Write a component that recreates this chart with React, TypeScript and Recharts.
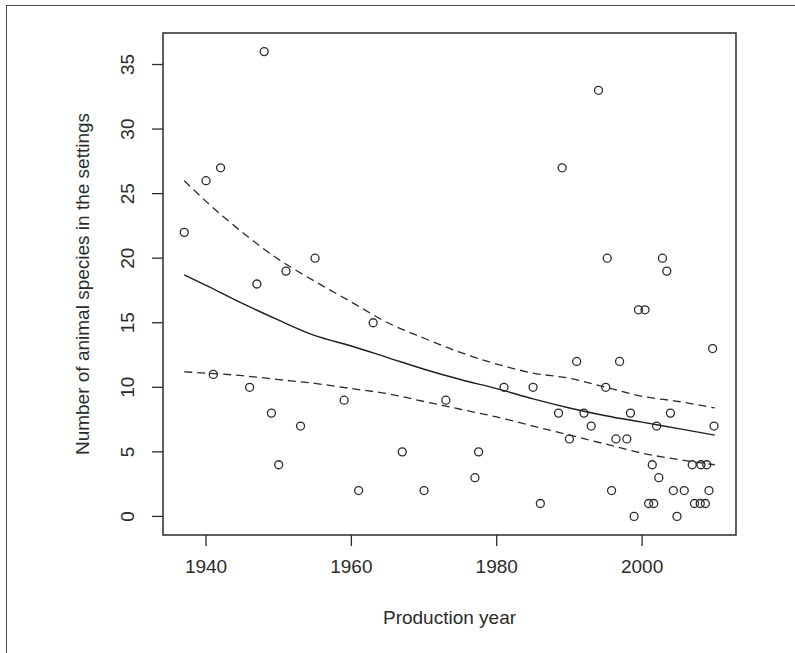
import React from 'react';
import { ComposedChart, Scatter, Line, XAxis, YAxis, ReferenceArea, Label } from 'recharts';

// observed films: production year and number of animal species
const years = [
  1937, 1940, 1941, 1942, 1946, 1947, 1948, 1949, 1950, 1951, 1953, 1955, 1959, 1961, 1963,
  1967, 1970, 1973, 1977, 1977.5, 1981, 1985, 1986, 1988.5, 1989, 1990, 1991, 1992, 1993,
  1994, 1995, 1995.2, 1995.8, 1996.4, 1996.9, 1997.9, 1998.4, 1998.9, 1999.5, 2000.4, 2000.9,
  2001.4, 2001.6, 2002, 2002.3, 2002.8, 2003.4, 2003.9, 2004.3, 2004.8, 2005.8, 2006.9,
  2007.2, 2008, 2008.1, 2008.7, 2008.9, 2009.2, 2009.7, 2009.9,
];
const species = [
  22, 26, 11, 27, 10, 18, 36, 8, 4, 19, 7, 20, 9, 2, 15,
  5, 2, 9, 3, 5, 10, 10, 1, 8, 27, 6, 12, 8, 7,
  33, 10, 20, 2, 6, 12, 6, 8, 0, 16, 16, 1,
  4, 1, 7, 3, 20, 19, 8, 2, 0, 2, 4,
  1, 1, 4, 1, 4, 2, 13, 7,
];

// fitted trend and its confidence band
const fitYears = [1937, 1940, 1945, 1950, 1955, 1960, 1965, 1970, 1975, 1980, 1985, 1990, 1995, 2000, 2005, 2010];
const fitMid = [18.7, 17.9, 16.5, 15.2, 14.0, 13.2, 12.3, 11.4, 10.6, 9.9, 9.1, 8.4, 7.8, 7.3, 6.8, 6.3];
const fitUpper = [26.0, 24.4, 22.0, 19.9, 18.2, 16.6, 15.0, 13.8, 12.7, 11.8, 11.1, 10.7, 10.0, 9.3, 8.9, 8.4];
const fitLower = [11.2, 11.1, 10.9, 10.6, 10.3, 9.9, 9.5, 8.9, 8.3, 7.7, 7.0, 6.3, 5.6, 4.9, 4.4, 4.0];

const xTicks = [1940, 1960, 1980, 2000];
const yTicks = [0, 5, 10, 15, 20, 25, 30, 35];

const X_DOMAIN: [number, number] = [1934.08, 2012.92];
const Y_DOMAIN: [number, number] = [-1.44, 37.44];

const FONT = '"Liberation Sans", Arial, sans-serif';
const INK = '#2b2b2b';

const points = years.map((year, i) => ({ year, species: species[i] }));
const fitData = fitYears.map((year, i) => ({
  year,
  mid: fitMid[i],
  upper: fitUpper[i],
  lower: fitLower[i],
}));

const OpenCircle = (props: any) => {
  const { cx, cy } = props;
  if (cx == null || cy == null) return null;
  return <circle cx={cx} cy={cy} r={4} fill="none" stroke={INK} strokeWidth={1.3} />;
};

// R style: y tick labels run parallel to the axis
const YTick = (props: any) => {
  const { x, y, payload } = props;
  const tx = x - 24;
  return (
    <text
      x={tx}
      y={y}
      transform={`rotate(-90, ${tx}, ${y})`}
      textAnchor="middle"
      dominantBaseline="central"
      fill={INK}
      fontSize={19}
      fontFamily={FONT}
    >
      {payload.value}
    </text>
  );
};

const App = () => {
  return (
    <div style={{ position: 'absolute', left: 0, top: 0, width: 795, height: 653, background: '#fff' }}>
      <div
        style={{
          position: 'absolute',
          left: 6,
          top: 5,
          width: 789,
          height: 648,
          borderTop: '1.5px solid #4a4a4a',
          borderLeft: '1.5px solid #4a4a4a',
          boxSizing: 'border-box',
        }}
      />
      <ComposedChart
        width={795}
        height={653}
        margin={{ top: 33, right: 59, bottom: 0, left: 0 }}
        style={{ position: 'absolute', left: 0, top: 0 }}
      >
        <XAxis
          type="number"
          dataKey="year"
          domain={X_DOMAIN}
          ticks={xTicks}
          allowDataOverflow
          height={118}
          axisLine={false}
          tickSize={11}
          tickMargin={14}
          tickLine={{ stroke: INK, strokeWidth: 1.3 }}
          tick={{ fill: INK, fontSize: 19, fontFamily: FONT }}
        >
          <Label
            content={({ viewBox }: any) => (
              <text
                x={viewBox.x + viewBox.width / 2}
                y={viewBox.y + 82}
                textAnchor="middle"
                dominantBaseline="central"
                fill={INK}
                fontSize={19}
                fontFamily={FONT}
              >
                Production year
              </text>
            )}
          />
        </XAxis>
        <YAxis
          type="number"
          domain={Y_DOMAIN}
          ticks={yTicks}
          allowDataOverflow
          width={163}
          axisLine={false}
          tickSize={11}
          tickMargin={0}
          tickLine={{ stroke: INK, strokeWidth: 1.3 }}
          tick={<YTick />}
        >
          <Label
            content={({ viewBox }: any) => {
              const lx = viewBox.x + viewBox.width - 81;
              const ly = viewBox.y + viewBox.height / 2;
              return (
                <text
                  x={lx}
                  y={ly}
                  transform={`rotate(-90, ${lx}, ${ly})`}
                  textAnchor="middle"
                  dominantBaseline="central"
                  fill={INK}
                  fontSize={19}
                  fontFamily={FONT}
                >
                  Number of animal species in the settings
                </text>
              );
            }}
          />
        </YAxis>
        <ReferenceArea
          x1={X_DOMAIN[0]}
          x2={X_DOMAIN[1]}
          y1={Y_DOMAIN[0]}
          y2={Y_DOMAIN[1]}
          fill="none"
          stroke={INK}
          strokeWidth={1.5}
          fillOpacity={0}
        />
        <Line
          data={fitData}
          dataKey="upper"
          type="monotone"
          stroke={INK}
          strokeWidth={1.3}
          strokeDasharray="8 5"
          dot={false}
          isAnimationActive={false}
        />
        <Line
          data={fitData}
          dataKey="mid"
          type="monotone"
          stroke="#1f1f1f"
          strokeWidth={1.4}
          dot={false}
          isAnimationActive={false}
        />
        <Line
          data={fitData}
          dataKey="lower"
          type="monotone"
          stroke={INK}
          strokeWidth={1.3}
          strokeDasharray="8 5"
          dot={false}
          isAnimationActive={false}
        />
        <Scatter data={points} dataKey="species" shape={<OpenCircle />} isAnimationActive={false} />
      </ComposedChart>
    </div>
  );
};

export default App;
